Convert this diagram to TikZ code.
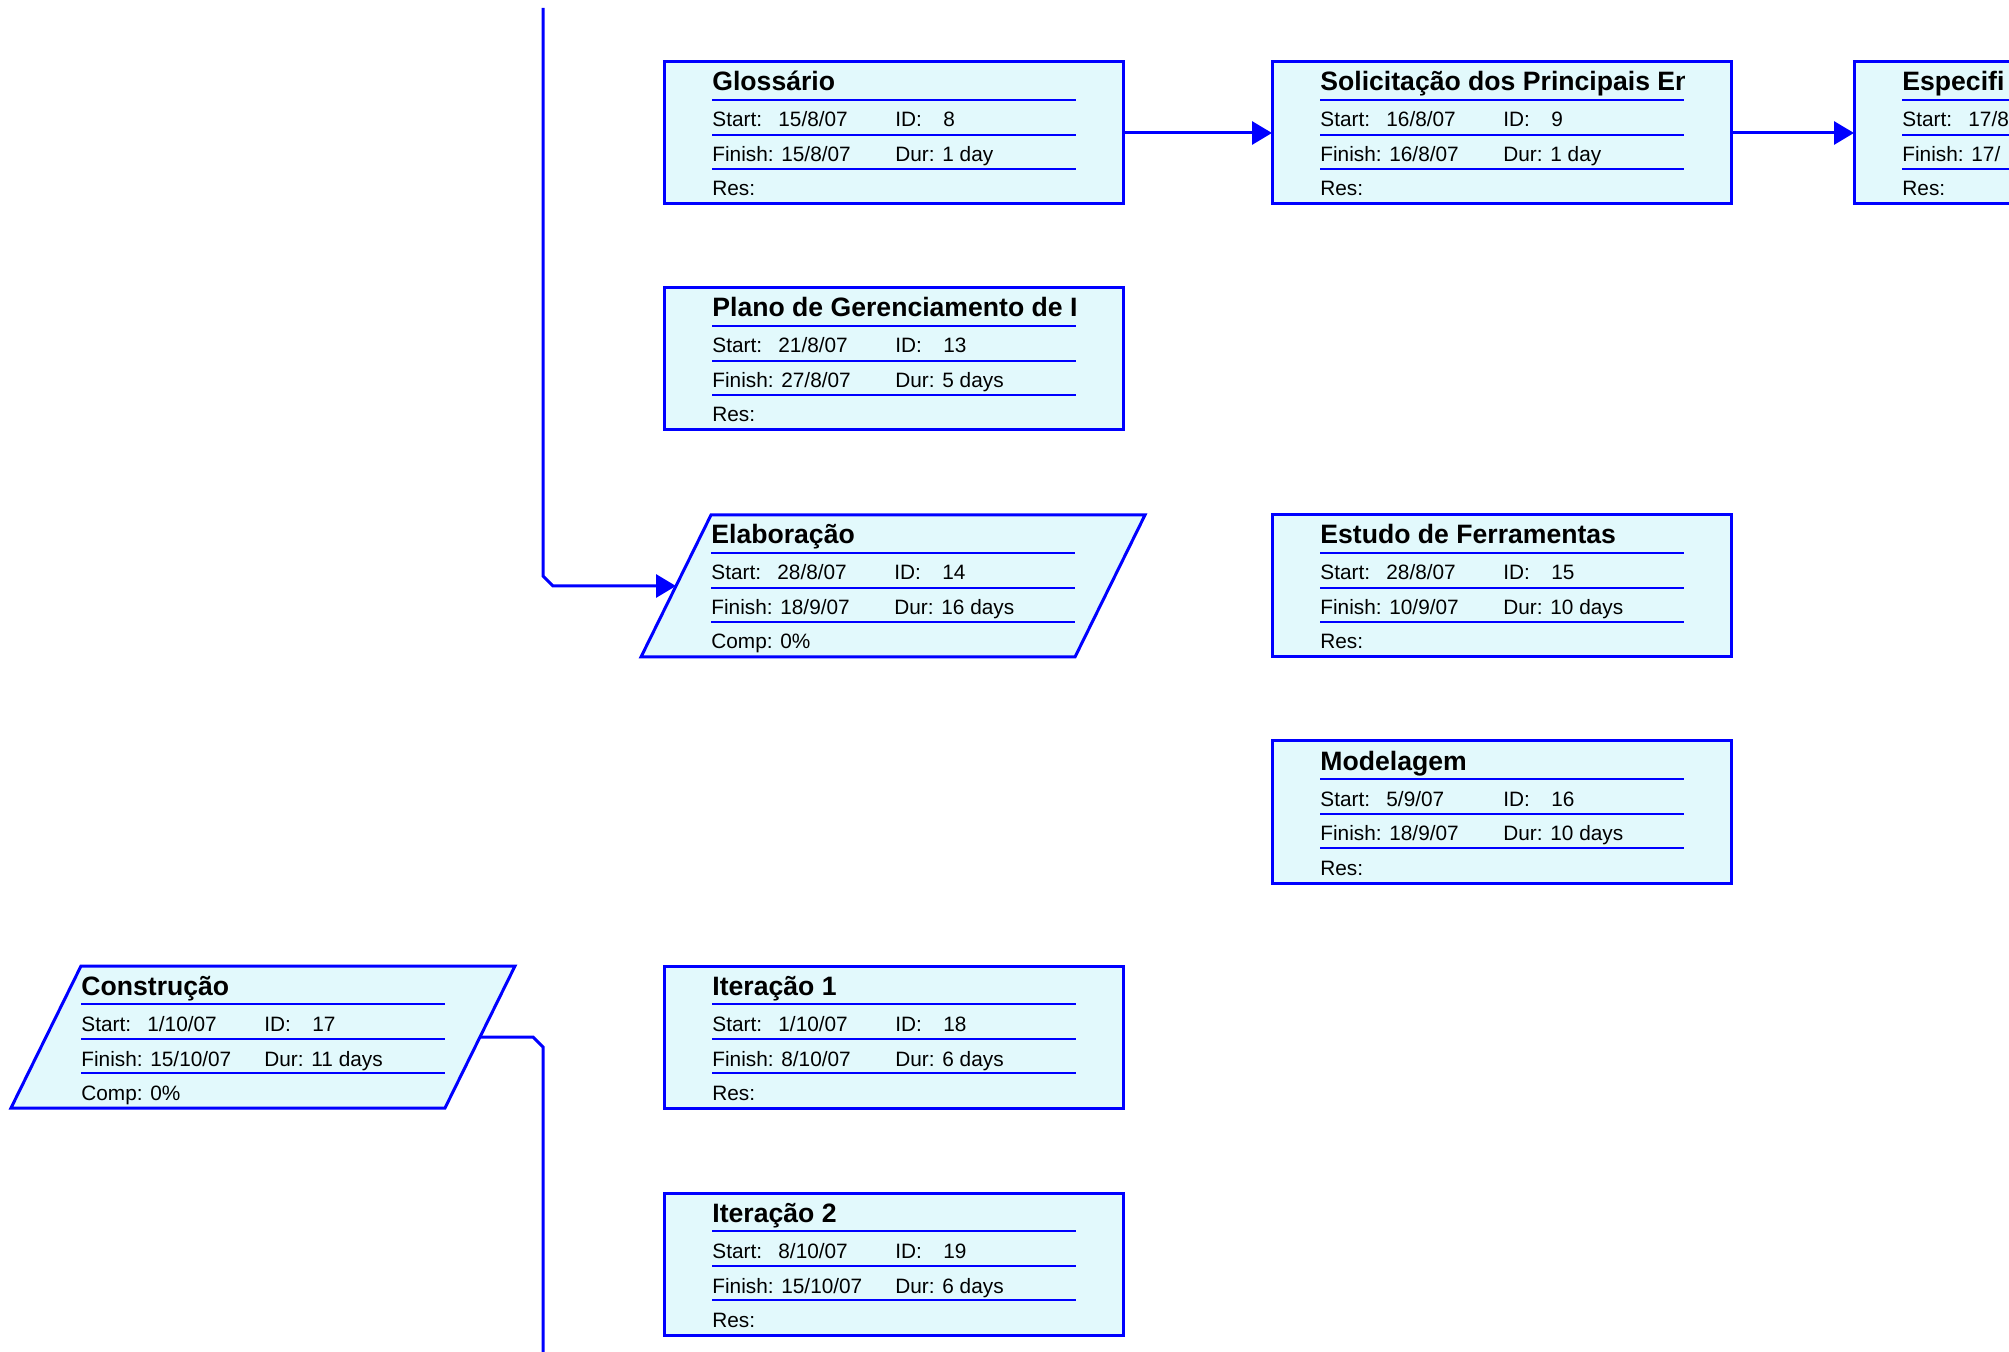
\documentclass[tikz,border=0pt]{standalone}
\usepackage{fontspec}
\setmainfont{Liberation Sans}
\usetikzlibrary{arrows.meta,calc}

\definecolor{taskblue}{RGB}{0,0,255}
\definecolor{taskfill}{RGB}{226,249,252}

% Fields of a task: name, text x, top y, title, start, id, finish, dur, last row
\newcommand{\taskfields}[9]{%
  \begin{scope}
    \clip (#2-6,#3+4) rectangle (#2+364,#3+37);
    \node[tasktitle] (#1-title) at (#2,#3+29) {#4};
  \end{scope}
  \draw[tasksep] (#2,#3+38) -- ++(364,0);
  \draw[tasksep] (#2,#3+73) -- ++(364,0);
  \draw[tasksep] (#2,#3+107) -- ++(364,0);
  \node[taskfield] (#1-start) at (#2,#3+65) {Start:};
  \node[taskfield] (#1-sval) at (#2+66,#3+65) {#5};
  \node[taskfield] (#1-id) at (#2+183,#3+65) {ID:};
  \node[taskfield] (#1-ival) at (#2+231,#3+65) {#6};
  \node[taskfield] (#1-finish) at (#2,#3+100) {Finish: #7};
  \node[taskfield] (#1-dur) at (#2+183,#3+100) {Dur: #8};
  \node[taskfield] (#1-last) at (#2,#3+134) {#9};
}

% Normal task: name, left x, top y, title, start, id, finish, dur
\newcommand{\taskbox}[8]{%
  \node[taskrect, anchor=north west] (#1) at (#2,#3) {};
  \taskfields{#1}{#2+48}{#3}{#4}{#5}{#6}{#7}{#8}{Res:}%
}

% Summary task (parallelogram): name, top left x, top y, title, start, id, finish, dur
\newcommand{\summarybox}[8]{%
  \draw[tasksum] (#2,#3) -- ++(434,0) -- ++(-70,142) -- ++(-434,0) -- cycle;
  \coordinate (#1-w) at (#2-35,#3+71);
  \coordinate (#1-e) at (#2+399,#3+71);
  \taskfields{#1}{#2}{#3}{#4}{#5}{#6}{#7}{#8}{Comp: 0\%}%
}

\begin{document}
\begin{tikzpicture}[x=0.5pt, y=-0.5pt,
    taskrect/.style={draw=taskblue, fill=taskfill, line width=1.5pt,
      minimum width=229.5pt, minimum height=71pt, inner sep=0pt, outer sep=0pt},
    tasksum/.style={draw=taskblue, fill=taskfill, line width=1.5pt, line join=miter},
    tasksep/.style={draw=taskblue, line width=0.7pt},
    tasktitle/.style={anchor=base west, inner sep=0pt,
      font=\fontsize{13.3}{15}\selectfont\bfseries},
    taskfield/.style={anchor=base west, inner sep=0pt,
      font=\fontsize{10.4}{12}\selectfont},
    link/.style={draw=taskblue, line width=1.5pt,
      -{Triangle[length=10pt,width=11.5pt]}},
    plainlink/.style={draw=taskblue, line width=1.5pt}]

  % Page frame (the view is cut at its edges)
  \clip (0,0) rectangle (2009,1352);

  % First row
  \taskbox{gloss}{664}{62}{Glossário}{15/8/07}{8}{15/8/07}{1 day}
  \taskbox{soli}{1272}{62}{Solicitação dos Principais Envolvidos}{16/8/07}{9}{16/8/07}{1 day}
  \taskbox{espec}{1854}{62}{Especifi}{17/8}{}{17/}{}

  \taskbox{plano}{664}{288}{Plano de Gerenciamento de Iterações}{21/8/07}{13}{27/8/07}{5 days}

  % Elaboration phase
  \summarybox{elab}{711}{515}{Elaboração}{28/8/07}{14}{18/9/07}{16 days}
  \taskbox{estudo}{1272}{515}{Estudo de Ferramentas}{28/8/07}{15}{10/9/07}{10 days}
  \taskbox{model}{1272}{741}{Modelagem}{5/9/07}{16}{18/9/07}{10 days}

  % Construction phase
  \summarybox{cons}{81}{966}{Construção}{1/10/07}{17}{15/10/07}{11 days}
  \taskbox{iter1}{664}{966}{Iteração 1}{1/10/07}{18}{8/10/07}{6 days}
  \taskbox{iter2}{664}{1193}{Iteração 2}{8/10/07}{19}{15/10/07}{6 days}

  % Links
  \draw[link] (gloss.east) -- (soli.west);
  \draw[link] (soli.east) -- (espec.west);

  \coordinate (feedin) at (543,8);
  \draw[link] (feedin) -- ($(feedin|-elab-w)+(0,-10)$)
    -- ($(feedin|-elab-w)+(10,0)$) -- (elab-w);

  \coordinate (feedout) at (543,1352);
  \draw[plainlink] (cons-e) -- ($(cons-e-|feedout)+(-10,0)$)
    -- ($(cons-e-|feedout)+(0,10)$) -- (feedout);
\end{tikzpicture}
\end{document}
